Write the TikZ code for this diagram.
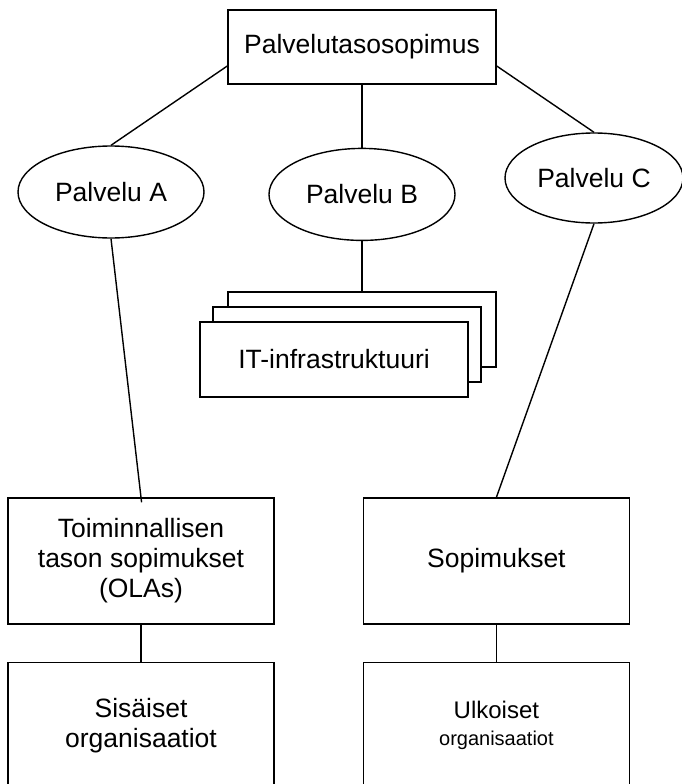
\documentclass[tikz,border=0pt]{standalone}
\usepackage{fontspec}
\setmainfont{Liberation Sans}
\usepackage{tikz}
\usetikzlibrary{positioning,shapes.geometric,calc}
\definecolor{slaInk}{RGB}{0,0,0}
\tikzset{
    base/.style={font=\fontsize{26.5}{30}\selectfont, align=center, text=slaInk},
    agreement/.style={base, rectangle, draw=slaInk, line width=1.4pt, fill=white, inner sep=0pt},
    service/.style={base, ellipse, draw=slaInk, line width=1.4pt, fill=white, inner sep=0pt},
    link/.style={draw=slaInk, line width=1.4pt}
}

\begin{document}
\begin{tikzpicture}[
    x=1pt, y=-1pt,
    top node/.style={agreement, minimum width=268pt, minimum height=74pt},
    service node/.style={service, minimum width=186pt, minimum height=92pt},
    layer node/.style={agreement, minimum width=268pt, minimum height=75pt},
    contract node/.style={agreement, minimum width=266pt, minimum height=126pt}
]
  \useasboundingbox (0,0) rectangle (682,784);
  \clip (0,0) rectangle (682,784);

  \node[top node] (sla) at (362,47) {Palvelutasosopimus};
  \node[service node] (srvA) at (111,192) {Palvelu A};
  \node[service node] (srvB) [below=63pt of sla] {Palvelu B};
  \node[service node, minimum width=178pt, minimum height=90pt] (srvC) at (594,178) {Palvelu C};

  \node[layer node] (infraBack) [below=50pt of srvB] {};
  \node[layer node] (infraMid) at ($(infraBack)+(-15,15)$) {};
  \node[layer node] (infraFront) at ($(infraMid)+(-13,15)$) {IT-infrastruktuuri};

  \node[contract node] (ola) at (141,561) {Toiminnallisen\\tason sopimukset\\(OLAs)};
  \node[contract node] (uc) [right=88pt of ola] {Sopimukset};
  \node[contract node] (internal) [below=37pt of ola] {Sisäiset\\organisaatiot};
  \node[contract node] (external) [below=37pt of uc]
    {{\fontsize{24}{27}\selectfont Ulkoiset}\\[-3pt]{\fontsize{20}{24}\selectfont organisaatiot}};

  \draw[link] ([yshift=-19pt]sla.west) -- (srvA.north);
  \draw[link] ([yshift=-19pt]sla.east) -- (srvC.north);
  \draw[link] (sla) -- (srvB);
  \draw[link] (srvB) -- (infraBack);
  \draw[link, shorten >=-5pt] (srvA.south) -- (ola.north);
  \draw[link] (srvC.south) -- (uc.north);
  \draw[link] (ola) -- (internal);
  \draw[link] (uc) -- (external);
\end{tikzpicture}
\end{document}
